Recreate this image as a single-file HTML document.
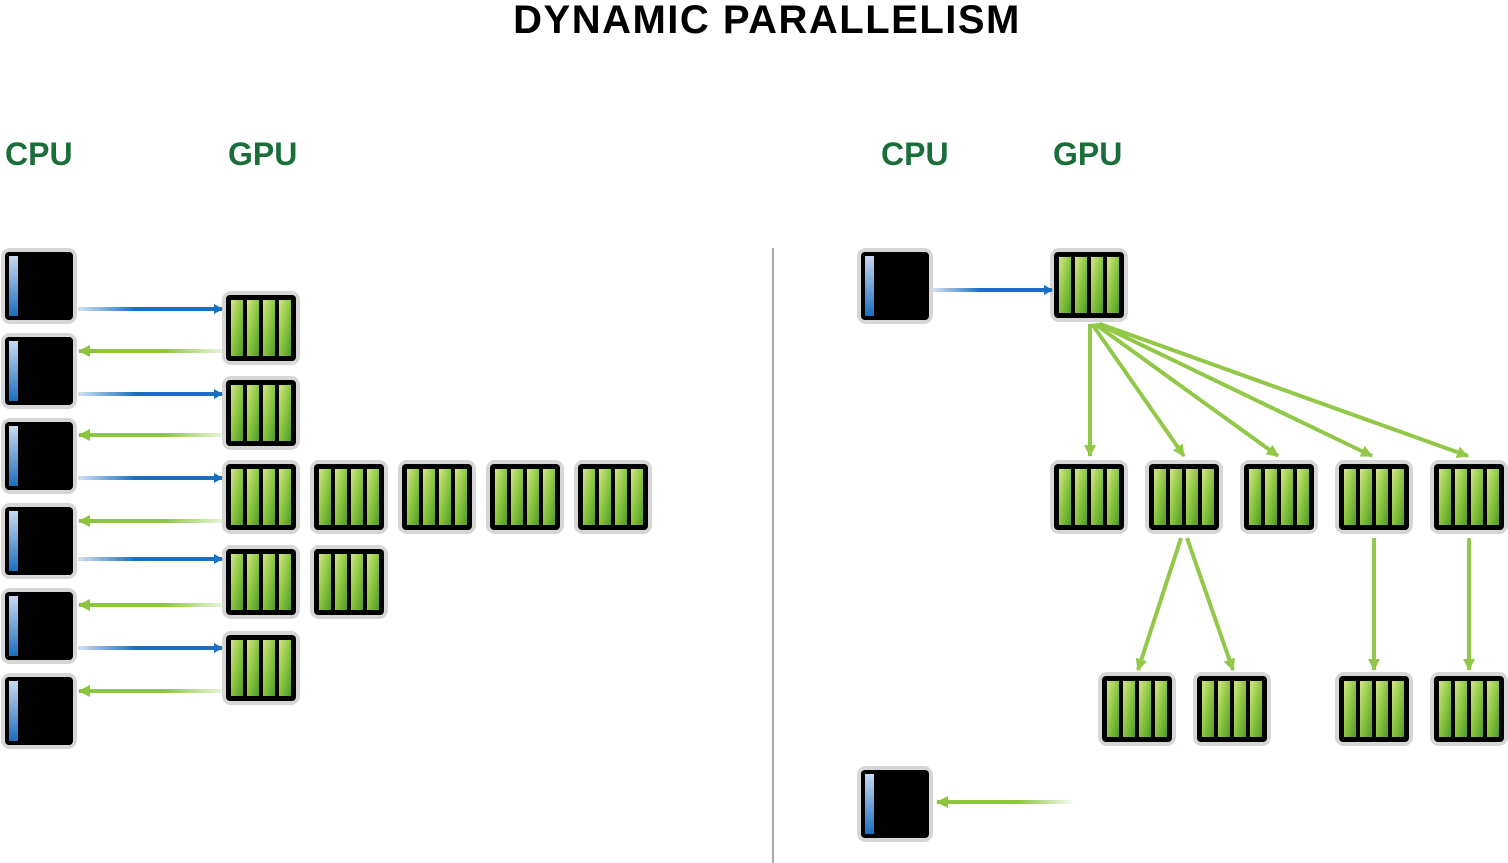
<!DOCTYPE html>
<html><head><meta charset="utf-8"><style>
html,body{margin:0;padding:0;background:#fff;width:1508px;height:863px;overflow:hidden}
svg{display:block}
</style></head><body>
<svg width="1508" height="863" viewBox="0 0 1508 863" xmlns="http://www.w3.org/2000/svg">
<defs>
<linearGradient id="gb" x1="0" y1="0" x2="1" y2="1"><stop offset="0" stop-color="#d4e68a"/><stop offset="0.5" stop-color="#8cc63f"/><stop offset="1" stop-color="#4f9a2a"/></linearGradient>
<linearGradient id="bb" x1="0" y1="0" x2="0" y2="1"><stop offset="0" stop-color="#c8d8f0"/><stop offset="1" stop-color="#1a6fc0"/></linearGradient>
<linearGradient id="blueL" gradientUnits="userSpaceOnUse" x1="78" y1="0" x2="222" y2="0"><stop offset="0" stop-color="#1a6fc0" stop-opacity="0.2"/><stop offset="0.4" stop-color="#1a6fc0"/><stop offset="1" stop-color="#1a6fc0"/></linearGradient>
<linearGradient id="greenL" gradientUnits="userSpaceOnUse" x1="222" y1="0" x2="78" y2="0"><stop offset="0" stop-color="#8cc63f" stop-opacity="0.2"/><stop offset="0.4" stop-color="#8cc63f"/><stop offset="1" stop-color="#8cc63f"/></linearGradient>
<linearGradient id="blueR" gradientUnits="userSpaceOnUse" x1="933" y1="0" x2="1052" y2="0"><stop offset="0" stop-color="#1a6fc0" stop-opacity="0.2"/><stop offset="0.4" stop-color="#1a6fc0"/><stop offset="1" stop-color="#1a6fc0"/></linearGradient>
<linearGradient id="greenR" gradientUnits="userSpaceOnUse" x1="1072" y1="0" x2="937" y2="0"><stop offset="0" stop-color="#8cc63f" stop-opacity="0.1"/><stop offset="0.4" stop-color="#8cc63f"/><stop offset="1" stop-color="#8cc63f"/></linearGradient>
<g id="gpu">
<rect x="0" y="0" width="78" height="74" rx="9" fill="#d6d6d6"/>
<rect x="4" y="4" width="70" height="66" rx="4" fill="#000"/>
<rect x="9" y="9" width="12" height="56" fill="url(#gb)"/>
<rect x="25" y="9" width="12" height="56" fill="url(#gb)"/>
<rect x="41" y="9" width="12" height="56" fill="url(#gb)"/>
<rect x="57" y="9" width="12" height="56" fill="url(#gb)"/>
</g>
<g id="cpu">
<rect x="0" y="0" width="76" height="76" rx="9" fill="#d6d6d6"/>
<rect x="4" y="4" width="68" height="68" rx="4" fill="#000"/>
<rect x="8" y="8" width="9" height="60" fill="url(#bb)"/>
</g>
<marker id="ab" markerWidth="9" markerHeight="10" refX="8" refY="5" orient="auto" markerUnits="userSpaceOnUse"><path d="M0,0 L9,5 L0,10 Z" fill="#1a6fc0"/></marker>
<marker id="ag" markerWidth="12" markerHeight="12" refX="11" refY="6" orient="auto" markerUnits="userSpaceOnUse"><path d="M0,0 L12,6 L0,12 Z" fill="#8cc63f"/></marker>
</defs>

<text x="767" y="33" text-anchor="middle" font-family="Liberation Sans, sans-serif" font-weight="bold" font-size="40" letter-spacing="1.5" fill="#000">DYNAMIC PARALLELISM</text>
<g font-family="Liberation Sans, sans-serif" font-weight="bold" font-size="32" fill="#1a6e3a">
<text x="5" y="165">CPU</text><text x="228" y="165">GPU</text>
<text x="881" y="165">CPU</text><text x="1053" y="165">GPU</text>
</g>
<line x1="773" y1="248" x2="773" y2="863" stroke="#aaa" stroke-width="2"/>

<use href="#cpu" x="1" y="248"/><use href="#cpu" x="1" y="333"/><use href="#cpu" x="1" y="418"/>
<use href="#cpu" x="1" y="503"/><use href="#cpu" x="1" y="588"/><use href="#cpu" x="1" y="673"/>
<use href="#gpu" x="222" y="291"/><use href="#gpu" x="222" y="376"/>
<use href="#gpu" x="222" y="460"/><use href="#gpu" x="310" y="460"/><use href="#gpu" x="398" y="460"/><use href="#gpu" x="486" y="460"/><use href="#gpu" x="574" y="460"/>
<use href="#gpu" x="222" y="545"/><use href="#gpu" x="310" y="545"/>
<use href="#gpu" x="222" y="631"/>
<g stroke-width="4" fill="none">
<line x1="78" y1="309" x2="222" y2="309" stroke="url(#blueL)" marker-end="url(#ab)"/>
<line x1="78" y1="394" x2="222" y2="394" stroke="url(#blueL)" marker-end="url(#ab)"/>
<line x1="78" y1="478" x2="222" y2="478" stroke="url(#blueL)" marker-end="url(#ab)"/>
<line x1="78" y1="559" x2="222" y2="559" stroke="url(#blueL)" marker-end="url(#ab)"/>
<line x1="78" y1="648" x2="222" y2="648" stroke="url(#blueL)" marker-end="url(#ab)"/>
<line x1="222" y1="351" x2="79" y2="351" stroke="url(#greenL)" marker-end="url(#ag)"/>
<line x1="222" y1="435" x2="79" y2="435" stroke="url(#greenL)" marker-end="url(#ag)"/>
<line x1="222" y1="521" x2="79" y2="521" stroke="url(#greenL)" marker-end="url(#ag)"/>
<line x1="222" y1="605" x2="79" y2="605" stroke="url(#greenL)" marker-end="url(#ag)"/>
<line x1="222" y1="691" x2="79" y2="691" stroke="url(#greenL)" marker-end="url(#ag)"/>
</g>

<use href="#cpu" x="857" y="248"/>
<use href="#gpu" x="1050" y="248"/>
<line x1="933" y1="290" x2="1052" y2="290" stroke="url(#blueR)" stroke-width="4" marker-end="url(#ab)"/>
<g stroke="#8cc63f" stroke-width="4" marker-end="url(#ag)" opacity="0.95">
<line x1="1090" y1="324" x2="1090" y2="456"/>
<line x1="1092" y1="324" x2="1184" y2="456"/>
<line x1="1095" y1="324" x2="1278" y2="456"/>
<line x1="1098" y1="324" x2="1372" y2="456"/>
<line x1="1100" y1="324" x2="1468" y2="456"/>
<line x1="1181" y1="538" x2="1138" y2="670"/>
<line x1="1187" y1="538" x2="1233" y2="670"/>
<line x1="1374" y1="538" x2="1374" y2="670"/>
<line x1="1469" y1="538" x2="1469" y2="670"/>
</g>
<use href="#gpu" x="1050" y="460"/><use href="#gpu" x="1145" y="460"/><use href="#gpu" x="1240" y="460"/><use href="#gpu" x="1335" y="460"/><use href="#gpu" x="1430" y="460"/>
<use href="#gpu" x="1098" y="672"/><use href="#gpu" x="1193" y="672"/><use href="#gpu" x="1335" y="672"/><use href="#gpu" x="1430" y="672"/>
<use href="#cpu" x="857" y="766"/>
<line x1="1072" y1="802" x2="937" y2="802" stroke="url(#greenR)" stroke-width="4" marker-end="url(#ag)"/>
</svg>
</body></html>
